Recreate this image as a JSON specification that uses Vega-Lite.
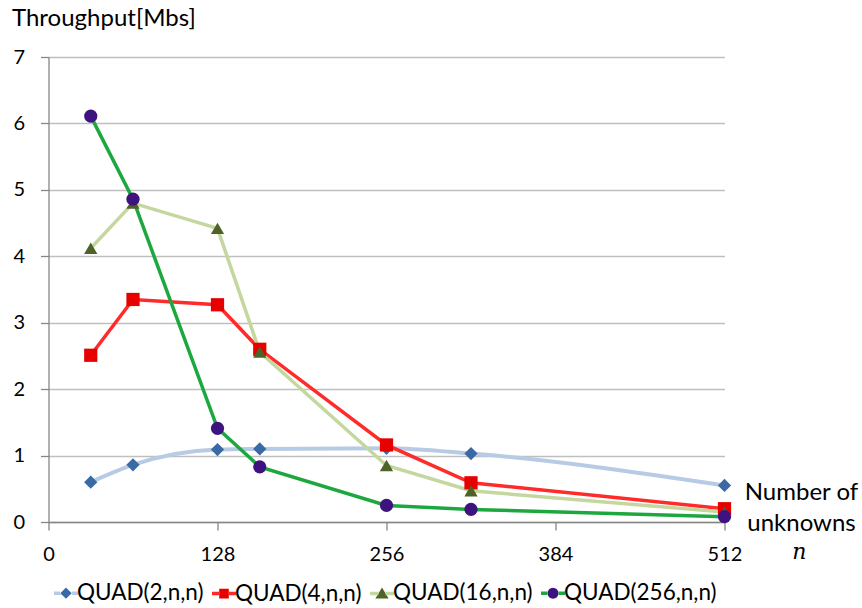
{
  "$schema": "https://vega.github.io/schema/vega-lite/v6.json",
  "width": 676,
  "height": 465,
  "autosize": "none",
  "padding": {"left": 48.5, "top": 57, "right": 137.5, "bottom": 86},
  "background": "white",
  "config": {"font": "Lato", "view": {"stroke": null}},
  "title": {
    "text": "n",
    "font": "DejaVu Serif",
    "fontStyle": "italic",
    "fontWeight": "normal",
    "fontSize": 22,
    "color": "#000",
    "orient": "bottom",
    "anchor": "end",
    "frame": "group",
    "offset": 0,
    "dx": 82,
    "dy": -64
  },
  "data": {
    "values": [
      {"n": 32, "series": "QUAD(2,n,n)", "tp": 0.60},
      {"n": 64, "series": "QUAD(2,n,n)", "tp": 0.86},
      {"n": 128, "series": "QUAD(2,n,n)", "tp": 1.09},
      {"n": 160, "series": "QUAD(2,n,n)", "tp": 1.10},
      {"n": 256, "series": "QUAD(2,n,n)", "tp": 1.11},
      {"n": 320, "series": "QUAD(2,n,n)", "tp": 1.03},
      {"n": 512, "series": "QUAD(2,n,n)", "tp": 0.55},
      {"n": 32, "series": "QUAD(4,n,n)", "tp": 2.51},
      {"n": 64, "series": "QUAD(4,n,n)", "tp": 3.35},
      {"n": 128, "series": "QUAD(4,n,n)", "tp": 3.27},
      {"n": 160, "series": "QUAD(4,n,n)", "tp": 2.60},
      {"n": 256, "series": "QUAD(4,n,n)", "tp": 1.16},
      {"n": 320, "series": "QUAD(4,n,n)", "tp": 0.59},
      {"n": 512, "series": "QUAD(4,n,n)", "tp": 0.20},
      {"n": 32, "series": "QUAD(16,n,n)", "tp": 4.12},
      {"n": 64, "series": "QUAD(16,n,n)", "tp": 4.80},
      {"n": 128, "series": "QUAD(16,n,n)", "tp": 4.42},
      {"n": 160, "series": "QUAD(16,n,n)", "tp": 2.56},
      {"n": 256, "series": "QUAD(16,n,n)", "tp": 0.85},
      {"n": 320, "series": "QUAD(16,n,n)", "tp": 0.47},
      {"n": 512, "series": "QUAD(16,n,n)", "tp": 0.15},
      {"n": 32, "series": "QUAD(256,n,n)", "tp": 6.11},
      {"n": 64, "series": "QUAD(256,n,n)", "tp": 4.86},
      {"n": 128, "series": "QUAD(256,n,n)", "tp": 1.41},
      {"n": 160, "series": "QUAD(256,n,n)", "tp": 0.83},
      {"n": 256, "series": "QUAD(256,n,n)", "tp": 0.25},
      {"n": 320, "series": "QUAD(256,n,n)", "tp": 0.19},
      {"n": 512, "series": "QUAD(256,n,n)", "tp": 0.08}
    ]
  },
  "encoding": {
    "x": {
      "field": "n",
      "type": "quantitative",
      "scale": {"domain": [0, 512], "nice": false},
      "axis": {
        "values": [0, 128, 256, 384, 512],
        "grid": false,
        "domainColor": "#868686",
        "domainWidth": 1.3,
        "tickColor": "#868686",
        "tickWidth": 1.3,
        "tickSize": 8,
        "labelFontSize": 20,
        "labelColor": "#000",
        "labelPadding": 14,
        "labelFlush": false,
        "title": ["Number of", "unknowns"],
        "titleFontSize": 24,
        "titleFontWeight": "normal",
        "titleColor": "#000",
        "titleX": 752.5,
        "titleY": -23,
        "titleAlign": "center",
        "titleBaseline": "alphabetic",
        "titleLineHeight": 31
      }
    },
    "y": {
      "field": "tp",
      "type": "quantitative",
      "scale": {"domain": [0, 7], "nice": false},
      "axis": {
        "values": [0, 1, 2, 3, 4, 5, 6, 7],
        "grid": true,
        "gridColor": "#bfbfbf",
        "gridWidth": 1.3,
        "domainColor": "#868686",
        "domainWidth": 1.3,
        "tickColor": "#868686",
        "tickWidth": 1.3,
        "tickSize": 8,
        "labelFontSize": 20,
        "labelColor": "#000",
        "labelPadding": 16,
        "title": "Throughput[Mbs]",
        "titleFontSize": 24,
        "titleFontWeight": "normal",
        "titleColor": "#000",
        "titleAngle": 0,
        "titleAlign": "left",
        "titleBaseline": "alphabetic",
        "titleX": -37,
        "titleY": -32
      }
    }
  },
  "layer": [
    {
      "transform": [{"filter": "datum.series === 'QUAD(2,n,n)'"}],
      "mark": {"type": "line", "interpolate": "monotone", "strokeWidth": 4},
      "encoding": {
        "stroke": {
          "field": "series",
          "type": "nominal",
          "scale": {
            "domain": ["QUAD(2,n,n)", "QUAD(4,n,n)", "QUAD(16,n,n)", "QUAD(256,n,n)"],
            "range": ["#b7cbe4", "#ff2b2b", "#c4d79e", "#1ca83e"]
          },
          "legend": {
            "orient": "none", "legendX": 3.5, "legendY": 522, "direction": "horizontal",
            "title": null, "padding": 0,
            "symbolSize": 576, "symbolStrokeWidth": 3.5, "symbolOpacity": 1,
            "labelFontSize": 22.5, "labelOffset": -3, "columnPadding": 1, "labelColor": "#000",
            "encode": {
              "symbols": {
                "update": {
                  "shape": {"signal": "datum.value === 'QUAD(2,n,n)' ? 'M-1,0H-0.47L0,-0.47L0.47,0L0,0.47L-0.47,0H0.47H1' : datum.value === 'QUAD(4,n,n)' ? 'M-1,0H-0.4V-0.4H0.4V0.4H-0.4V0H0.4H1' : datum.value === 'QUAD(16,n,n)' ? 'M-1,0H-0.299L0,-0.5L0.55,0.42H-0.55L-0.299,0H0.299H1' : 'M-1,0H-0.46L-0.425,-0.176L-0.325,-0.325L-0.176,-0.425L0,-0.46L0.176,-0.425L0.325,-0.325L0.425,-0.176L0.46,0L0.425,0.176L0.325,0.325L0.176,0.425L0,0.46L-0.176,0.425L-0.325,0.325L-0.425,0.176L-0.46,0H0.46H1'"},
                  "fill": {"signal": "datum.value === 'QUAD(2,n,n)' ? '#3b69a5' : datum.value === 'QUAD(4,n,n)' ? '#e60000' : datum.value === 'QUAD(16,n,n)' ? '#4f6228' : '#3f137f'"},
                  "strokeDash": {"signal": "datum.value === 'QUAD(2,n,n)' ? [6.4, 43.2, 7, 100] : datum.value === 'QUAD(4,n,n)' ? [7.2, 48, 8, 100] : datum.value === 'QUAD(16,n,n)' ? [8.41, 46.11, 9, 100] : [6.48, 45.5, 7, 100]"}
                }
              }
            }
          }
        }
      }
    },
    {
      "transform": [{"filter": "datum.series !== 'QUAD(2,n,n)'"}],
      "mark": {"type": "line", "strokeWidth": 3.5},
      "encoding": {
        "stroke": {
          "field": "series",
          "type": "nominal",
          "scale": {
            "domain": ["QUAD(2,n,n)", "QUAD(4,n,n)", "QUAD(16,n,n)", "QUAD(256,n,n)"],
            "range": ["#b7cbe4", "#ff2b2b", "#c4d79e", "#1ca83e"]
          },
          "legend": {
            "orient": "none", "legendX": 3.5, "legendY": 522, "direction": "horizontal",
            "title": null, "padding": 0,
            "symbolSize": 576, "symbolStrokeWidth": 3.5, "symbolOpacity": 1,
            "labelFontSize": 22.5, "labelOffset": -3, "columnPadding": 1, "labelColor": "#000",
            "encode": {
              "symbols": {
                "update": {
                  "shape": {"signal": "datum.value === 'QUAD(2,n,n)' ? 'M-1,0H-0.47L0,-0.47L0.47,0L0,0.47L-0.47,0H0.47H1' : datum.value === 'QUAD(4,n,n)' ? 'M-1,0H-0.4V-0.4H0.4V0.4H-0.4V0H0.4H1' : datum.value === 'QUAD(16,n,n)' ? 'M-1,0H-0.299L0,-0.5L0.55,0.42H-0.55L-0.299,0H0.299H1' : 'M-1,0H-0.46L-0.425,-0.176L-0.325,-0.325L-0.176,-0.425L0,-0.46L0.176,-0.425L0.325,-0.325L0.425,-0.176L0.46,0L0.425,0.176L0.325,0.325L0.176,0.425L0,0.46L-0.176,0.425L-0.325,0.325L-0.425,0.176L-0.46,0H0.46H1'"},
                  "fill": {"signal": "datum.value === 'QUAD(2,n,n)' ? '#3b69a5' : datum.value === 'QUAD(4,n,n)' ? '#e60000' : datum.value === 'QUAD(16,n,n)' ? '#4f6228' : '#3f137f'"},
                  "strokeDash": {"signal": "datum.value === 'QUAD(2,n,n)' ? [6.4, 43.2, 7, 100] : datum.value === 'QUAD(4,n,n)' ? [7.2, 48, 8, 100] : datum.value === 'QUAD(16,n,n)' ? [8.41, 46.11, 9, 100] : [6.48, 45.5, 7, 100]"}
                }
              }
            }
          }
        }
      }
    },
    {
      "mark": {"type": "point", "filled": true, "opacity": 1, "size": 175, "strokeWidth": 0},
      "encoding": {
        "fill": {
          "field": "series",
          "type": "nominal",
          "sort": ["QUAD(2,n,n)", "QUAD(4,n,n)", "QUAD(16,n,n)", "QUAD(256,n,n)"],
          "scale": {"range": ["#3b69a5", "#e60000", "#4f6228", "#3f137f"]},
          "legend": null
        },
        "shape": {
          "field": "series",
          "type": "nominal",
          "sort": ["QUAD(2,n,n)", "QUAD(4,n,n)", "QUAD(16,n,n)", "QUAD(256,n,n)"],
          "scale": {"range": ["diamond", "square", "triangle-up", "circle"]},
          "legend": null
        }
      }
    }
  ]
}
